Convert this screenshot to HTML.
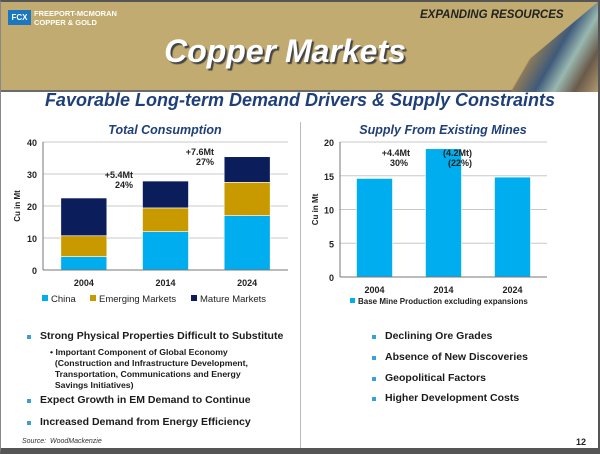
<!DOCTYPE html>
<html><head><meta charset="utf-8">
<style>
*{margin:0;padding:0;box-sizing:border-box}
body{width:600px;height:454px;overflow:hidden;background:#fff;font-family:"Liberation Sans",sans-serif;position:relative}
.abs{position:absolute}
.bul{position:absolute;font-size:10.5px;font-weight:bold;color:#1b1b1b;white-space:nowrap}
.bul:before{content:"";position:absolute;left:-13px;top:5px;width:4px;height:4px;background:#3aa0d8}
</style></head><body>
<div class="abs" style="left:0;top:0;width:600px;height:454px;border:2px solid #555;border-bottom:6px solid #555;border-left:1px solid #888"></div>
<div class="abs" style="left:1px;top:2px;width:597px;height:90px;background:#c1ab70;border-bottom:2px solid #6b6b6b"></div>
<div class="abs" style="left:490px;top:2px;width:108px;height:90px;background:linear-gradient(120deg,transparent 45%,#8b7a5a 46%,#3f5a7a 60%,#9ab8b0 72%,#6a5a4a 85%,#b09a70 100%);clip-path:polygon(100% 0,100% 100%,0 100%)"></div>
<div class="abs" style="left:8px;top:10px;width:23px;height:15px;background:#1b77c0;color:#fff;font-size:8px;font-weight:bold;line-height:15px;text-align:center">FCX</div>
<div class="abs" style="left:34px;top:9px;font-size:7.5px;font-weight:bold;color:#fff;line-height:9px">FREEPORT-MCMORAN<br>COPPER &amp; GOLD</div>
<div class="abs" style="left:420px;top:9px;font-size:11.5px;font-weight:bold;font-style:italic;color:#222">EXPANDING RESOURCES</div>
<div class="abs" style="left:0;width:570px;top:33px;text-align:center;font-size:32px;font-weight:bold;font-style:italic;color:#fff;text-shadow:2px 2px 1px #444">Copper Markets</div>
<div class="abs" style="left:0;width:600px;top:90px;text-align:center;font-size:18px;font-weight:bold;font-style:italic;color:#1e3f78">Favorable Long-term Demand Drivers &amp; Supply Constraints</div>
<div class="abs" style="left:300px;top:122px;width:1px;height:326px;background:#bbb"></div>
<div class="abs" style="left:40px;width:250px;top:123px;text-align:center;font-size:12.5px;font-weight:bold;font-style:italic;color:#1e3f78">Total Consumption</div>
<div class="abs" style="left:318px;width:250px;top:123px;text-align:center;font-size:12.5px;font-weight:bold;font-style:italic;color:#1e3f78">Supply From Existing Mines</div>
<svg class="abs" style="left:0;top:0" width="600" height="454" id="charts"></svg>
<div class="bul" style="left:40px;top:330px">Strong Physical Properties Difficult to Substitute</div>
<div class="abs" style="left:50px;top:347px;font-size:8.7px;font-weight:bold;color:#1b1b1b;line-height:11px">• Important Component of Global Economy<br>&nbsp;&nbsp;(Construction and Infrastructure Development,<br>&nbsp;&nbsp;Transportation, Communications and Energy<br>&nbsp;&nbsp;Savings Initiatives)</div>
<div class="bul" style="left:40px;top:394px">Expect Growth in EM Demand to Continue</div>
<div class="bul" style="left:40px;top:416px">Increased Demand from Energy Efficiency</div>
<div class="bul" style="left:385px;top:330px">Declining Ore Grades</div>
<div class="bul" style="left:385px;top:351px">Absence of New Discoveries</div>
<div class="bul" style="left:385px;top:372px">Geopolitical Factors</div>
<div class="bul" style="left:385px;top:392px">Higher Development Costs</div>
<div class="abs" style="left:22px;top:438px;font-size:7px;font-style:italic;color:#333">Source:&nbsp; WoodMackenzie</div>
<div class="abs" style="left:576px;top:437px;font-size:9px;font-weight:bold;color:#222">12</div>
<script>
const years=["2004","2014","2024"];
const china=[4.2,12,17];
const emerging=[6.5,7.4,10.4];
const mature=[11.8,8.4,8];
const leftTicks=[0,10,20,30,40];
const supply=[14.6,19,14.8];
const rightTicks=[0,5,10,15,20];
const NS="http://www.w3.org/2000/svg";
const svg=document.getElementById('charts');
function mk(t,a,txt){const e=document.createElementNS(NS,t);for(const k in a)e.setAttribute(k,a[k]);if(txt!==undefined)e.textContent=txt;svg.appendChild(e);return e;}
const L={x0:43,x1:288,y0:270,yTop:142,max:40};
const ly=v=>L.y0-(v/L.max)*(L.y0-L.yTop);
const lslot=(L.x1-L.x0)/years.length;
leftTicks.forEach(t=>{
 if(t>0){const g=mk('line',{x1:L.x0,x2:L.x1,y1:ly(t),y2:ly(t),stroke:'#c8c8c8'});}
 const tx=mk('text',{x:L.x0-6,y:ly(t)+4,'text-anchor':'end','font-size':9,'font-weight':'bold',fill:'#222','font-family':'Liberation Sans'},t);
 
});
const cols=['#00aeef','#c99a00','#0b1d5a'];
years.forEach((yr,i)=>{
 const cx=L.x0+lslot*(i+0.5),w=46;let base=0;
 [china[i],emerging[i],mature[i]].forEach((v,j)=>{
  const r=mk('rect',{x:cx-w/2,y:ly(base+v),width:w,height:ly(base)-ly(base+v),fill:cols[j],stroke:'#fff','stroke-width':0.6});
  
  
  base+=v;
 });
 const t=mk('text',{x:cx,y:L.y0+16,'text-anchor':'middle','font-size':9,'font-weight':'bold',fill:'#222','font-family':'Liberation Sans'},yr);
 
});
mk('line',{x1:L.x0,x2:L.x0,y1:L.yTop,y2:L.y0,stroke:'#777'});
mk('line',{x1:L.x0,x2:L.x1,y1:L.y0,y2:L.y0,stroke:'#777'});
const lt=mk('text',{x:0,y:0,transform:`translate(20,${(L.y0+L.yTop)/2}) rotate(-90)`,'text-anchor':'middle','font-size':8,'font-weight':'bold',fill:'#222','font-family':'Liberation Sans'},'Cu in Mt');

[['+5.4Mt',133,178],['24%',133,188],['+7.6Mt',214,155],['27%',214,165]].forEach(a=>{const t=mk('text',{x:a[1],y:a[2],'text-anchor':'end','font-size':9,fill:'#222','font-weight':'bold','font-family':'Liberation Sans'},a[0]);});
[['China',cols[0],42],['Emerging Markets',cols[1],90],['Mature Markets',cols[2],191]].forEach(a=>{
 const r=mk('rect',{x:a[2],y:295,width:6,height:6,fill:a[1]});
 const t=mk('text',{x:a[2]+9,y:302,'font-size':9.5,fill:'#222','font-family':'Liberation Sans'},a[0]);
});
const R={x0:340,x1:547,y0:277,yTop:142,max:20};
const ry=v=>R.y0-(v/R.max)*(R.y0-R.yTop);
const rslot=(R.x1-R.x0)/years.length;
rightTicks.forEach(t=>{
 if(t>0){const g=mk('line',{x1:R.x0,x2:R.x1,y1:ry(t),y2:ry(t),stroke:'#c8c8c8'});}
 const tx=mk('text',{x:R.x0-6,y:ry(t)+4,'text-anchor':'end','font-size':9,'font-weight':'bold',fill:'#222','font-family':'Liberation Sans'},t);
 
});
years.forEach((yr,i)=>{
 const cx=R.x0+rslot*(i+0.5),w=36;
 const r=mk('rect',{x:cx-w/2,y:ry(supply[i]),width:w,height:R.y0-ry(supply[i]),fill:'#00aeef',stroke:'#fff','stroke-width':0.6});
 
 const t=mk('text',{x:cx,y:R.y0+16,'text-anchor':'middle','font-size':9,'font-weight':'bold',fill:'#222','font-family':'Liberation Sans'},yr);
 
});
mk('line',{x1:R.x0,x2:R.x0,y1:R.yTop,y2:R.y0,stroke:'#777'});
mk('line',{x1:R.x0,x2:R.x1,y1:R.y0,y2:R.y0,stroke:'#777'});
const rt=mk('text',{x:0,y:0,transform:`translate(318,${(R.y0+R.yTop)/2}) rotate(-90)`,'text-anchor':'middle','font-size':8,'font-weight':'bold',fill:'#222','font-family':'Liberation Sans'},'Cu in Mt');

[['+4.4Mt',410,156],['30%',408,166],['(4.2Mt)',472,156],['(22%)',472,166]].forEach(a=>{const t=mk('text',{x:a[1],y:a[2],'text-anchor':'end','font-size':9,fill:'#222','font-weight':'bold','font-family':'Liberation Sans'},a[0]);});
const rs=mk('rect',{x:350,y:298,width:5,height:5,fill:'#00aeef'});
const rl=mk('text',{x:358,y:304,'font-size':8,'font-weight':'bold',fill:'#222','font-family':'Liberation Sans'},'Base Mine Production excluding expansions');

</script>
</body></html>
